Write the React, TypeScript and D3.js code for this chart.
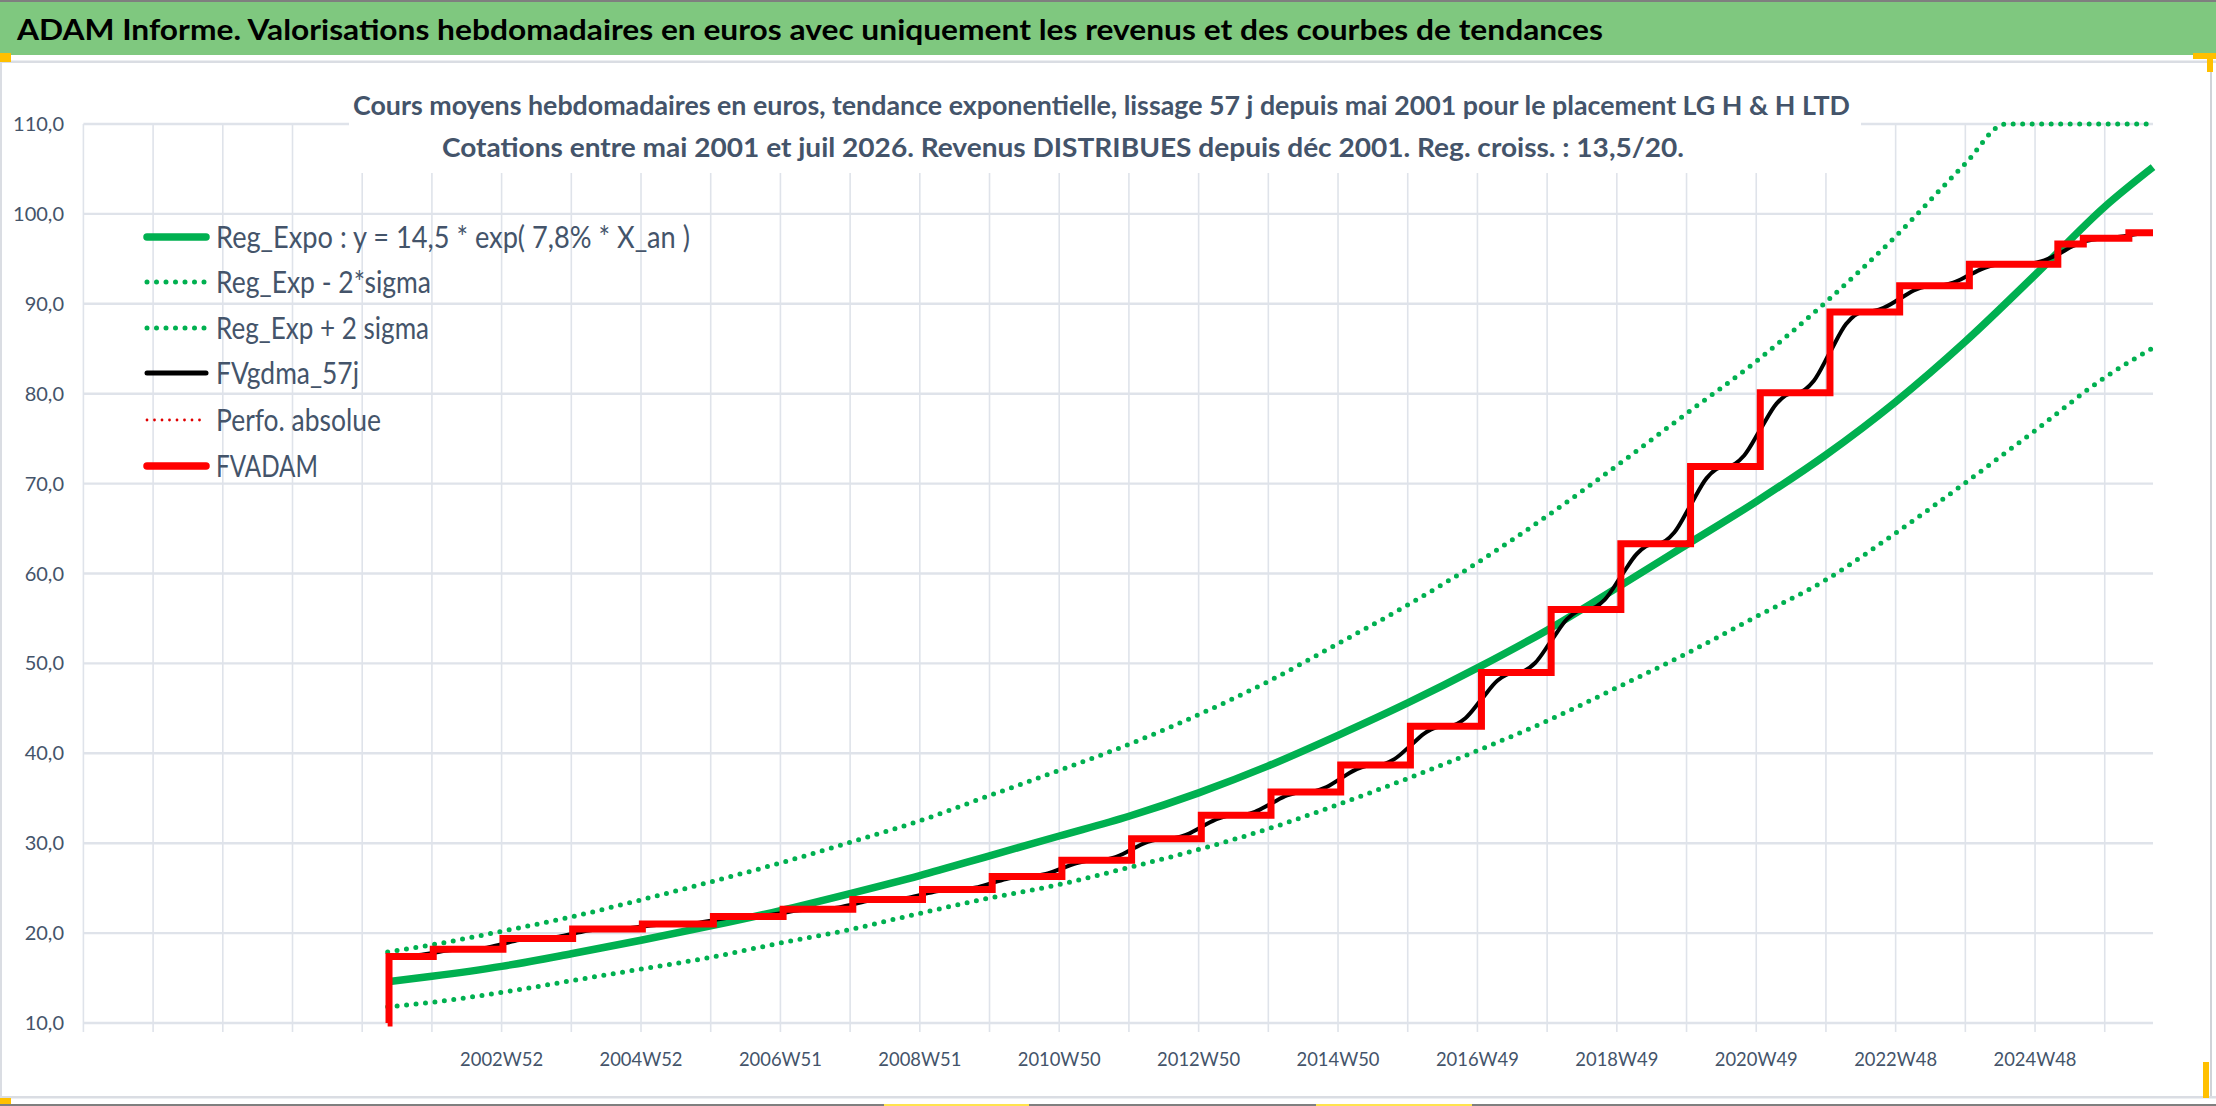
import React from "react";
import * as d3 from "d3";

// x axis is a weekly category index (0 = first category of the sheet)
const xTickLabels = [
  "2002W52", "2004W52", "2006W51", "2008W51", "2010W50", "2012W50",
  "2014W50", "2016W49", "2018W49", "2020W49", "2022W48", "2024W48",
];
const xTickWeeks = [312, 416, 520, 624, 728, 832, 936, 1040, 1144, 1248, 1352, 1456];
const lastWeek = 1544;

// trend curves, read at each yearly gridline
const trendWeeks = [
  227, 260, 312, 364, 416, 468, 520, 572, 624, 676, 728, 780, 832, 884,
  936, 988, 1040, 1092, 1144, 1196, 1248, 1300, 1352, 1404, 1456, 1508, 1544,
];
const regExpo = [
  14.6, 15.2, 16.3, 17.7, 19.2, 20.8, 22.5, 24.4, 26.4, 28.6, 30.8, 33.0, 35.6, 38.6,
  42.0, 45.6, 49.5, 53.7, 58.4, 63.2, 68.0, 73.2, 79.1, 85.8, 93.2, 100.8, 105.2,
];
const regLow = [
  11.8, 12.3, 13.4, 14.7, 16.0, 17.3, 18.9, 20.4, 22.2, 23.9, 25.4, 27.3, 29.3, 31.6,
  34.3, 37.2, 40.3, 43.6, 47.3, 51.1, 55.2, 59.3, 64.5, 70.1, 75.9, 81.8, 85.1,
];
const upperWeeks = [
  227, 260, 312, 364, 416, 468, 520, 572, 624, 676, 728, 780, 832, 884,
  936, 988, 1040, 1092, 1144, 1196, 1248, 1300, 1352, 1404, 1434, 1456, 1508, 1544,
];
const regHigh = [
  17.9, 18.7, 20.2, 21.8, 23.7, 25.7, 27.8, 30.1, 32.5, 35.3, 38.1, 41.0, 44.3, 48.0,
  52.2, 56.5, 61.2, 66.4, 72.0, 77.8, 83.6, 90.2, 97.5, 105.6, 110, 110, 110, 110,
];

// FVADAM: week where each level starts
const fvadamWeeks = [
  227, 228, 261, 313, 365, 417, 470, 522, 574, 626, 678, 730, 782, 834, 886,
  938, 990, 1043, 1095, 1147, 1199, 1251, 1303, 1355, 1407, 1473, 1492, 1526, 1544,
];
const fvadamValues = [
  10, 17.4, 18.2, 19.4, 20.45, 21.0, 21.85, 22.65, 23.75, 24.85, 26.3, 28.1, 30.5, 33.1, 35.7,
  38.7, 43.0, 49.0, 56.0, 63.3, 71.9, 80.1, 89.1, 92.0, 94.4, 96.65, 97.3, 97.9, 97.9,
];

// FVgdma_57j: smoothed curve, points read around each jump
const fvgdma: [number, number][] = [
  [227, 17.4],
  [237, 17.4], [249, 17.52], [261, 17.8], [273, 18.08], [286, 18.2],
  [288, 18.2], [301, 18.38], [313, 18.8], [325, 19.22], [338, 19.4],
  [340, 19.4], [353, 19.56], [365, 19.93], [377, 20.29], [390, 20.45],
  [392, 20.45], [405, 20.53], [417, 20.73], [429, 20.92], [442, 21.0],
  [445, 21.0], [458, 21.13], [470, 21.43], [482, 21.72], [495, 21.85],
  [497, 21.85], [510, 21.97], [522, 22.25], [534, 22.53], [547, 22.65],
  [549, 22.65], [562, 22.82], [574, 23.2], [586, 23.59], [599, 23.75],
  [601, 23.75], [614, 23.92], [626, 24.3], [638, 24.69], [651, 24.85],
  [653, 24.85], [666, 25.07], [678, 25.58], [690, 26.08], [703, 26.3],
  [705, 26.3], [718, 26.57], [730, 27.2], [742, 27.83], [755, 28.1],
  [757, 28.1], [770, 28.46], [782, 29.3], [794, 30.14], [807, 30.5],
  [809, 30.5], [822, 30.89], [834, 31.8], [846, 32.71], [859, 33.1],
  [861, 33.1], [874, 33.49], [886, 34.4], [898, 35.31], [911, 35.7],
  [913, 35.7], [926, 36.15], [938, 37.2], [950, 38.25], [963, 38.7],
  [965, 38.7], [978, 39.35], [990, 40.85], [1002, 42.36], [1015, 43.0],
  [1018, 43.0], [1031, 43.9], [1043, 46.0], [1055, 48.1], [1068, 49.0],
  [1070, 49.0], [1083, 50.05], [1095, 52.5], [1107, 54.95], [1120, 56.0],
  [1122, 56.0], [1135, 57.1], [1147, 59.65], [1159, 62.2], [1172, 63.3],
  [1174, 63.3], [1187, 64.59], [1199, 67.6], [1211, 70.61], [1224, 71.9],
  [1226, 71.9], [1239, 73.13], [1251, 76.0], [1263, 78.87], [1276, 80.1],
  [1278, 80.1], [1291, 81.45], [1303, 84.6], [1315, 87.75], [1328, 89.1],
  [1330, 89.1], [1343, 89.54], [1355, 90.55], [1367, 91.57], [1380, 92.0],
  [1382, 92.0], [1395, 92.36], [1407, 93.2], [1419, 94.04], [1432, 94.4],
  [1448, 94.4], [1461, 94.74], [1473, 95.5], [1484, 96.4], [1492, 96.9],
  [1502, 97.2], [1514, 97.35], [1526, 97.6], [1536, 97.85], [1544, 97.9],
];

const legendLabels = [
  "Reg_Expo : y = 14,5 * exp( 7,8% *  X_an )",
  "Reg_Exp - 2*sigma",
  "Reg_Exp + 2 sigma",
  "FVgdma_57j",
  "Perfo. absolue",
  "FVADAM",
];

const W = 2216;
const H = 1106;
const FONT = "Lato, 'Open Sans', sans-serif";
const SLATE = "#44546a";
const GRID = "#dfe3ea";
const GREEN = "#00b050";

export default function App() {
  const x = d3.scaleLinear().domain([0, lastWeek]).range([83.4, 2153]);
  const y = d3.scaleLinear().domain([10, 110]).range([1023, 124]);

  const smooth = d3
    .line<[number, number]>()
    .x((d) => x(d[0]))
    .y((d) => y(d[1]))
    .curve(d3.curveMonotoneX);
  const stepped = d3
    .line<[number, number]>()
    .x((d) => x(d[0]))
    .y((d) => y(d[1]))
    .curve(d3.curveStepAfter);
  const zip = (ws: number[], vs: number[]) =>
    ws.map((w, i) => [w, vs[i]] as [number, number]);

  const gridWeeks = d3.range(0, lastWeek, 52);
  const yTicks = y.ticks(10);
  const fmt = (v: number) => d3.format(".1f")(v).replace(".", ",");

  // legend sample styles
  const legendStyles = [
    { stroke: GREEN, width: 7.5, dash: undefined, cap: "round" },
    { stroke: GREEN, width: 5, dash: "0 9.5", cap: "round" },
    { stroke: GREEN, width: 5, dash: "0 9.5", cap: "round" },
    { stroke: "#000", width: 5, dash: undefined, cap: "round" },
    { stroke: "#e00000", width: 2.8, dash: "0 7.5", cap: "round" },
    { stroke: "#ff0000", width: 7.5, dash: undefined, cap: "round" },
  ];
  const legendWidths = [474, 215, 213, 143, 165, 102];
  const legendRows = [237, 282, 328, 373, 420, 466];

  return (
    <>
      <style>{`body{margin:0;}`}</style>
      <svg width={W} height={H} style={{ display: "block", fontFamily: FONT }}>
        <rect x={0} y={0} width={W} height={H} fill="#fff" />
        {/* sheet frame */}
        <rect x={0} y={0} width={W} height={2} fill="#7f7f7f" />
        <rect x={0} y={2} width={W} height={53} fill="#7fc87f" />
        <rect x={0} y={60.5} width={W} height={2.5} fill="#dadde3" />
        <rect x={0} y={62} width={2} height={1036} fill="#dadde3" />
        <rect x={2210} y={62} width={2} height={1036} fill="#d0d3d8" />
        <rect x={0} y={1096} width={W} height={2.5} fill="#dadde3" />
        <rect x={0} y={1104} width={W} height={2} fill="#7f7f7f" />
        <rect x={0} y={53} width={11} height={9} fill="#ffc000" />
        <rect x={2193} y={53} width={23} height={6} fill="#ffc000" />
        <rect x={2207} y={53} width={6} height={19} fill="#ffc000" />
        <rect x={2203} y={1062} width={6} height={36} fill="#ffc000" />
        <rect x={0} y={1098} width={11} height={6} fill="#ffc000" />
        <rect x={884} y={1104} width={145} height={2} fill="#ffe34d" />
        <rect x={1316} y={1104} width={156} height={2} fill="#ffe34d" />

        <text
          x={17}
          y={40}
          fontSize={28}
          fontWeight="bold"
          fill="#000"
          textLength={1586}
          lengthAdjust="spacingAndGlyphs"
        >
          ADAM Informe. Valorisations hebdomadaires en euros avec uniquement les revenus et des courbes de tendances
        </text>

        {/* gridlines */}
        {gridWeeks.map((w) => (
          <line key={"v" + w} x1={x(w)} x2={x(w)} y1={124} y2={1032} stroke={GRID} strokeWidth={1.6} />
        ))}
        {yTicks.map((v) => (
          <line key={"h" + v} x1={83.4} x2={2153} y1={y(v)} y2={y(v)} stroke={GRID} strokeWidth={2.4} />
        ))}

        {/* chart title box */}
        <rect x={349} y={80} width={1512} height={93} fill="#fff" />
        <text
          x={353}
          y={115}
          fontSize={26}
          fontWeight="bold"
          fill={SLATE}
          textLength={1497}
          lengthAdjust="spacingAndGlyphs"
        >
          Cours moyens hebdomadaires en euros, tendance exponentielle, lissage 57 j depuis mai 2001 pour le placement LG H &amp; H LTD
        </text>
        <text
          x={442}
          y={157}
          fontSize={26}
          fontWeight="bold"
          fill={SLATE}
          textLength={1242}
          lengthAdjust="spacingAndGlyphs"
        >
          Cotations entre mai 2001 et juil 2026. Revenus DISTRIBUES depuis déc 2001. Reg. croiss. : 13,5/20.
        </text>

        {/* axis labels */}
        {yTicks.map((v) => (
          <text key={"yl" + v} x={64} y={y(v) + 7} fontSize={20} fill={SLATE} textAnchor="end">
            {fmt(v)}
          </text>
        ))}
        {xTickLabels.map((t, i) => (
          <text
            key={t}
            x={x(xTickWeeks[i])}
            y={1066}
            fontSize={20}
            fill={SLATE}
            textAnchor="middle"
            textLength={83}
            lengthAdjust="spacingAndGlyphs"
          >
            {t}
          </text>
        ))}

        {/* series */}
        <path d={smooth(zip(trendWeeks, regLow)) ?? ""} fill="none" stroke={GREEN} strokeWidth={5} strokeDasharray="0 9.5" strokeLinecap="round" />
        <path d={smooth(zip(upperWeeks, regHigh)) ?? ""} fill="none" stroke={GREEN} strokeWidth={5} strokeDasharray="0 9.5" strokeLinecap="round" />
        <path d={smooth(zip(trendWeeks, regExpo)) ?? ""} fill="none" stroke={GREEN} strokeWidth={7.5} strokeLinecap="butt" />
        <path d={smooth(fvgdma) ?? ""} fill="none" stroke="#000" strokeWidth={4} />
        <path d={stepped(zip(fvadamWeeks, fvadamValues)) ?? ""} fill="none" stroke="#ff0000" strokeWidth={7} strokeLinejoin="miter" />

        {/* legend */}
        {legendLabels.map((name, i) => {
          const s = legendStyles[i];
          return (
            <g key={name}>
              <line
                x1={147}
                x2={206}
                y1={legendRows[i]}
                y2={legendRows[i]}
                stroke={s.stroke}
                strokeWidth={s.width}
                strokeDasharray={s.dash}
                strokeLinecap={s.cap as any}
              />
              <text
                x={216}
                y={legendRows[i] + 10.5}
                fontSize={30}
                fill={SLATE}
                textLength={legendWidths[i]}
                lengthAdjust="spacingAndGlyphs"
              >
                {name}
              </text>
            </g>
          );
        })}
      </svg>
    </>
  );
}
